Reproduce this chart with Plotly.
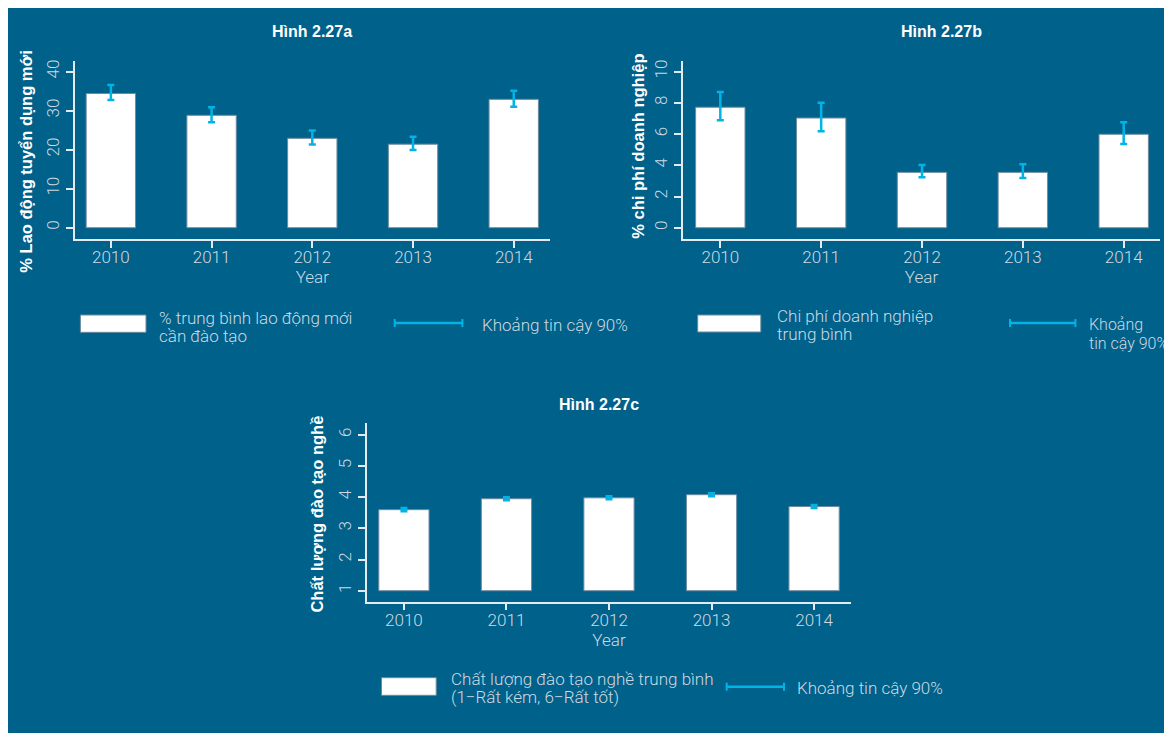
import plotly.graph_objects as go

# datos
years = ["2010", "2011", "2012", "2013", "2014"]

lao_dong = [34.4, 28.8, 22.9, 21.4, 32.9]
lao_dong_hi = [36.6, 30.9, 24.9, 23.3, 35.1]
lao_dong_lo = [32.7, 27.0, 21.3, 19.9, 31.0]

chi_phi = [7.72, 7.03, 3.55, 3.55, 5.99]
chi_phi_hi = [8.70, 8.01, 4.02, 4.06, 6.76]
chi_phi_lo = [6.88, 6.18, 3.23, 3.19, 5.37]

chat_luong = [3.60, 3.95, 3.98, 4.08, 3.70]
chat_luong_hi = [3.65, 4.00, 4.03, 4.13, 3.75]
chat_luong_lo = [3.55, 3.90, 3.93, 4.03, 3.65]
chat_luong_base = 1

OFF = 8  # margen del body en la captura
W, H = 1180, 741
NAVY = "#00618a"
CYAN = "#00b4e6"
LIGHT = "#cdd9e2"
FONT_LIGHT = dict(family="Roboto", size=17, color=LIGHT, weight=300)


def px(x):
    return (x - OFF) / W


def py(y):
    return 1 - (y - OFF) / H


fig = go.Figure()

# paneles: (datos, hi, lo, base, eje x, eje y)
paneles = [
    (lao_dong, lao_dong_hi, lao_dong_lo, 0, "x", "y"),
    (chi_phi, chi_phi_hi, chi_phi_lo, 0, "x2", "y2"),
    (chat_luong, chat_luong_hi, chat_luong_lo, chat_luong_base, "x3", "y3"),
]

for vals, hi, lo, base, xa, ya in paneles:
    fig.add_trace(go.Bar(
        x=years,
        y=[v - base for v in vals],
        base=base,
        width=0.49,
        marker=dict(color="white", line=dict(color="#6d8aa0", width=1)),
        xaxis=xa, yaxis=ya,
        showlegend=False,
        hoverinfo="skip",
    ))
    # intervalos de confianza 90%
    fig.add_trace(go.Scatter(
        x=years,
        y=vals,
        mode="markers",
        marker=dict(size=1, color="rgba(0,0,0,0)"),
        error_y=dict(
            type="data", symmetric=False,
            array=[h - v for h, v in zip(hi, vals)],
            arrayminus=[v - l for v, l in zip(vals, lo)],
            color=CYAN, thickness=2.5, width=3.5,
        ),
        xaxis=xa, yaxis=ya,
        showlegend=False,
        hoverinfo="skip",
    ))

eje_x = dict(
    type="category", showline=True, linecolor="#e3eaf0", linewidth=1.5,
    ticks="outside", ticklen=7, tickcolor="#e3eaf0", tickwidth=1.5,
    tickfont=FONT_LIGHT, showgrid=False, zeroline=False, ticklabelstandoff=-5,
    title=dict(text="Year", font=FONT_LIGHT, standoff=2),
)
eje_y = dict(
    showline=True, linecolor="#e3eaf0", linewidth=1.5,
    ticks="outside", ticklen=7, tickcolor="#e3eaf0", tickwidth=1.5,
    tickfont=FONT_LIGHT, tickangle=-90, showgrid=False, zeroline=False,
)

fig.update_layout(
    width=W, height=H,
    margin=dict(l=0, r=0, t=0, b=0),
    paper_bgcolor=NAVY,
    plot_bgcolor=NAVY,
    xaxis=dict(eje_x, domain=[px(74.6), px(550)], range=[-0.36, 4.36], anchor="y"),
    yaxis=dict(eje_y, domain=[py(239), py(60.7)], range=[-2.9, 42.8],
               tickvals=[0, 10, 20, 30, 40], anchor="x"),
    xaxis2=dict(eje_x, domain=[px(683), px(1160)], range=[-0.37, 4.36], anchor="y2"),
    yaxis2=dict(eje_y, domain=[py(239), py(60.7)], range=[-0.72, 10.7],
                tickvals=[0, 2, 4, 6, 8, 10], anchor="x2"),
    xaxis3=dict(eje_x, domain=[px(367), px(851)], range=[-0.36, 4.36], anchor="y3"),
    yaxis3=dict(eje_y, domain=[py(601.7), py(423.3)], range=[0.648, 6.37],
                tickvals=[1, 2, 3, 4, 5, 6], anchor="x3"),
)

shapes = []
annotations = []


def texto(x, y, t, font, xanchor="left", angle=0):
    annotations.append(dict(x=px(x), y=py(y), xref="paper", yref="paper", text=t,
                            showarrow=False, xanchor=xanchor, yanchor="middle",
                            textangle=angle, font=font, align="left"))


BOLD_TITLE = dict(family="Liberation Sans", size=16, color="white", weight="bold")
BOLD_Y = dict(family="Liberation Sans", size=16.5, color="white", weight="bold")

# titulos
texto(312, 32, "Hình 2.27a", BOLD_TITLE, "center")
texto(941, 32, "Hình 2.27b", BOLD_TITLE, "center")
texto(599, 404, "Hình 2.27c", BOLD_TITLE, "center")

# titulos eje y
texto(26, 161.7, "% Lao động tuyển dụng mới", BOLD_Y, "center", -90)
texto(638, 146.7, "% chi phí doanh nghiệp", BOLD_Y, "center", -90)
texto(316.6, 514, "Chất lượng đào tạo nghề", BOLD_Y, "center", -90)


def leyenda(rx0, rx1, ry0, ry1, tx, ty, lineas, ex0, ex1, ey, kx, ky, klineas, kfont=FONT_LIGHT):
    shapes.append(dict(type="rect", xref="paper", yref="paper",
                       x0=px(rx0), x1=px(rx1), y0=py(ry1), y1=py(ry0),
                       fillcolor="white", line=dict(color="#6d8aa0", width=1)))
    shapes.append(dict(type="line", xref="paper", yref="paper",
                       x0=px(ex0), x1=px(ex1), y0=py(ey), y1=py(ey),
                       line=dict(color=CYAN, width=2.5)))
    for ex in (ex0, ex1):
        shapes.append(dict(type="line", xref="paper", yref="paper",
                           x0=px(ex), x1=px(ex), y0=py(ey - 4), y1=py(ey + 4),
                           line=dict(color=CYAN, width=2)))
    for i, t in enumerate(lineas):
        texto(tx, ty + 17.5 * i, t, FONT_LIGHT)
    for i, t in enumerate(klineas):
        texto(kx, ky + 19 * i, t, kfont)


leyenda(80.4, 146, 315, 332.3, 157, 318, ["% trung bình lao động mới", "cần đào tạo"],
        394.7, 462.4, 323, 479.6, 325, ["Khoảng tin cậy 90%"])
leyenda(697.7, 760.8, 315, 332, 775, 316, ["Chi phí doanh nghiệp", "trung bình"],
        1010, 1075.4, 323, 1087, 324.3, ["Khoảng", "tin cậy 90%"],
        dict(FONT_LIGHT, size=16))
leyenda(381.5, 436.2, 677.7, 695.3, 448.5, 679,
        ["Chất lượng đào tạo nghề trung bình", "(1−Rất kém, 6−Rất tốt)"],
        726.7, 784, 686.7, 794.8, 688.3, ["Khoảng tin cậy 90%"])

fig.update_layout(shapes=shapes, annotations=annotations)

# sin barras de desplazamiento en la captura
fig.write_html("out.html", post_script="document.body.style.overflow = 'hidden';")
